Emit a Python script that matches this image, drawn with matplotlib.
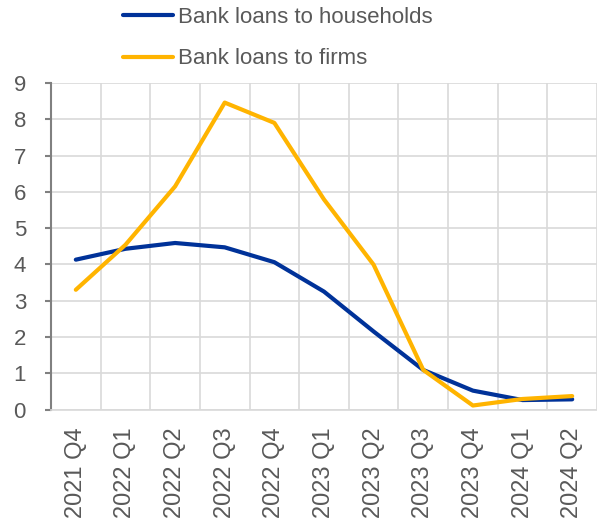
import matplotlib
matplotlib.use("Agg")
import matplotlib.pyplot as plt

quarters = ["2021 Q4", "2022 Q1", "2022 Q2", "2022 Q3", "2022 Q4", "2023 Q1",
            "2023 Q2", "2023 Q3", "2023 Q4", "2024 Q1", "2024 Q2"]
households = [4.13, 4.43, 4.59, 4.47, 4.06, 3.25, 2.15, 1.09, 0.52, 0.26, 0.28]
firms = [3.30, 4.54, 6.15, 8.46, 7.90, 5.79, 3.99, 1.09, 0.11, 0.29, 0.37]

plt.rcParams["font.family"] = ["Liberation Sans", "DejaVu Sans"]
text_color = "#595959"
grid_color = "#d9d9d9"

fig = plt.figure(figsize=(5.97, 5.24), dpi=100)
ax = fig.add_axes([51 / 597, 1 - 409.5 / 524, (597 - 51) / 597, (409.5 - 83) / 524])

x = range(len(quarters))
l1, = ax.plot(x, households, color="#003299", lw=3.0, solid_capstyle="round",
              solid_joinstyle="round", label="Bank loans to households", zorder=3)
l2, = ax.plot(x, firms, color="#FFB400", lw=3.0, solid_capstyle="round",
              solid_joinstyle="round", label="Bank loans to firms", zorder=4)

ax.set_xlim(-0.5, len(quarters) - 0.5)
ax.set_ylim(0, 9)
ax.set_yticks(range(0, 10))
ax.set_xticks(list(x))
ax.set_xticklabels(quarters, rotation=90)
ax.set_xticks([i + 0.5 for i in range(-1, len(quarters))], minor=True)

ax.grid(True, which="major", axis="y", color=grid_color, lw=1.2)
ax.grid(True, which="minor", axis="x", color=grid_color, lw=1.2)
ax.set_axisbelow(True)

for s in ["top", "right"]:
    ax.spines[s].set_visible(False)
ax.spines["left"].set_color("#808080")
ax.spines["left"].set_linewidth(1.5)
ax.spines["bottom"].set_color(grid_color)
ax.spines["bottom"].set_linewidth(1.2)

ax.tick_params(axis="y", which="major", length=4, width=1.5, color="#808080",
               labelsize=16, labelcolor=text_color, pad=14)
ax.tick_params(axis="x", which="major", length=0, labelsize=17,
               labelcolor=text_color, pad=13)
ax.tick_params(axis="x", which="minor", length=0)

fig.legend(handles=[l1, l2], loc="upper left", bbox_to_anchor=(0.191, 1.004),
           frameon=False, fontsize=16, handlelength=2.25, handletextpad=0.22,
           labelspacing=0.93, labelcolor=text_color, borderaxespad=0)

fig.savefig("out.png", dpi=100)
